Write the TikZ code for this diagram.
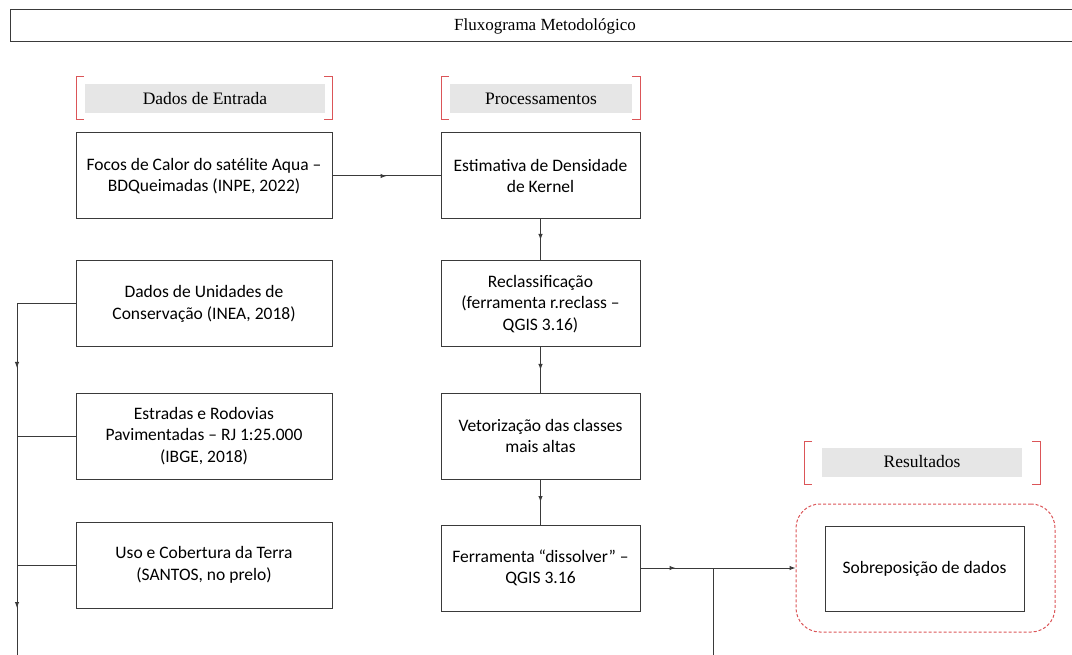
\documentclass[tikz,border=0pt]{standalone}
\usepackage{fontspec}
\setmainfont{Carlito}
\newfontfamily\tnr{Liberation Serif}
\usetikzlibrary{arrows.meta,decorations.markings}
\definecolor{boxline}{HTML}{3A3A3A}
\definecolor{brkred}{HTML}{DB5558}
\definecolor{hdgray}{HTML}{E6E6E6}
\begin{document}
\begin{tikzpicture}[x=1pt,y=-1pt,
  box/.style={draw=boxline, line width=1pt, fill=white, align=center, inner sep=0pt,
    font=\fontsize{17.5}{21.5}\selectfont, minimum height=86pt},
  wbox/.style={box, minimum width=256pt},
  nbox/.style={box, minimum width=199pt},
  hdr/.style={fill=hdgray, inner sep=0pt, minimum height=29pt, font=\tnr\fontsize{17.5}{20}\selectfont},
  brk/.style={draw=brkred, line width=1pt},
  conn/.style={draw=boxline, line width=1pt},
  tip/.style={-{Latex[length=6pt,width=4.5pt]}},
  arrowat/.style={postaction={decorate}, decoration={markings, mark=at position #1 with {\arrow{Latex[length=6pt,width=4.5pt]}}}},
]
\useasboundingbox (0,0) rectangle (1072,655);
% title
\draw[draw=boxline, line width=1pt] (1090,10) -- (10,10) -- (10,42) -- (1090,42);
\node[font=\tnr\fontsize{17}{19}\selectfont] (title) at (545,26) {Fluxograma Metodológico};
% headers
\node[hdr, minimum width=240pt] (hin) at (205,98.5) {Dados de Entrada};
\draw[brk] (84,77) -- (76,77) -- (76,120) -- (84,120);
\draw[brk] (324,77) -- (332,77) -- (332,120) -- (324,120);
\node[hdr, minimum width=182pt] (hproc) at (541,98.5) {Processamentos};
\draw[brk] (449,77) -- (441,77) -- (441,120) -- (449,120);
\draw[brk] (632,77) -- (640,77) -- (640,120) -- (632,120);
\node[hdr, minimum width=200pt] (hres) at (922,462) {Resultados};
\draw[brk] (812,441) -- (804,441) -- (804,484) -- (812,484);
\draw[brk] (1032,441) -- (1040,441) -- (1040,484) -- (1032,484);
% input boxes
\node[wbox] (focos) at (204,176) {Focos de Calor do satélite Aqua –\\BDQueimadas (INPE, 2022)};
\node[wbox] (uc) at (204,304) {Dados de Unidades de\\Conservação (INEA, 2018)};
\node[wbox] (estr) at (204,436) {Estradas e Rodovias\\Pavimentadas – RJ 1:25.000\\(IBGE, 2018)};
\node[wbox] (uso) at (204,565) {Uso e Cobertura da Terra\\(SANTOS, no prelo)};
% processing boxes
\node[nbox] (kern) at (540.5,176) {Estimativa de Densidade\\de Kernel};
\node[nbox] (recl) at (540.5,304) {Reclassificação\\(ferramenta r.reclass –\\QGIS 3.16)};
\node[nbox] (vet) at (540.5,436) {Vetorização das classes\\mais altas};
\node[nbox] (diss) at (540.5,568) {Ferramenta “dissolver” –\\QGIS 3.16};
% results
\node[draw=brkred, line width=1pt, dash pattern=on 3pt off 2pt, rounded corners=24pt,
  minimum width=259pt, minimum height=128pt, inner sep=0pt] (resgrp) at (925.5,568) {};
\node[box, minimum width=199pt, minimum height=85pt] (sobre) at (924.5,568.5) {Sobreposição de dados};
% connectors
\draw[conn, arrowat=0.5] (focos.east) -- (kern.west);
\draw[conn, arrowat=0.5] (kern.south) -- (recl.north);
\draw[conn, arrowat=0.5] (recl.south) -- (vet.north);
\draw[conn, arrowat=0.5] (vet.south) -- (diss.north);
\coordinate (bustop) at (17,304);
\coordinate (busbot) at (17,660);
\draw[conn] (uc.west) -- (bustop);
\draw[conn, postaction={decorate}, decoration={markings,
  mark=at position 64pt with {\arrow{Latex[length=6pt,width=4.5pt]}},
  mark=at position 304pt with {\arrow{Latex[length=6pt,width=4.5pt]}}}] (bustop) -- (busbot);
\draw[conn] (estr.west) -- (estr.west -| bustop);
\draw[conn] (uso.west) -- (uso.west -| bustop);
\coordinate (junc) at (713,568);
\coordinate (juncbot) at (713,660);
\draw[conn, tip, postaction={decorate}, decoration={markings,
  mark=at position 35pt with {\arrow{Latex[length=6pt,width=4.5pt]}}}] (diss.east) -- (resgrp.west);
\draw[conn] (junc) -- (juncbot);
\end{tikzpicture}
\end{document}
